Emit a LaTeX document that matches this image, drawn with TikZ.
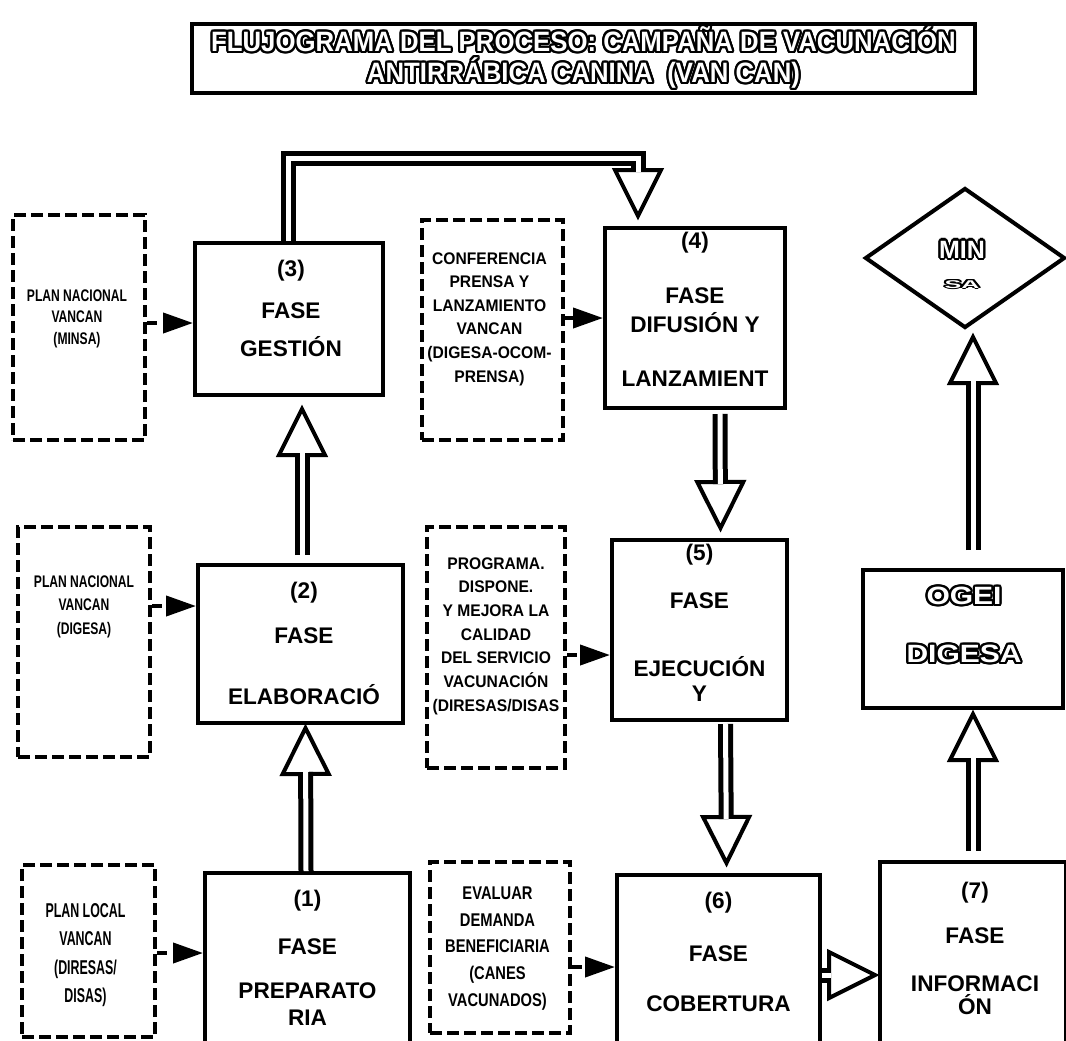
\documentclass[tikz,border=0pt]{standalone}
\usepackage{fontspec}
\setmainfont{Liberation Sans}
\newfontfamily\nA{Liberation Sans}[FakeStretch=0.72]
\newfontfamily\nB{Liberation Sans}[FakeStretch=0.93]
\newfontfamily\nC{Liberation Sans}[FakeStretch=0.62]
\newfontfamily\nD{Liberation Sans}[FakeStretch=0.8]
\newfontfamily\tF{Liberation Sans}[FakeStretch=0.92]
\newfontfamily\wF{Liberation Sans}[FakeStretch=1.2]
\usepackage[copies]{contour}
\contourlength{1.1pt}
\usetikzlibrary{shapes.geometric,arrows.meta,calc}

\tikzset{
  phase/.style={draw, line width=2pt, inner sep=0pt},
  plan/.style={draw, line width=2pt, dash pattern=on 6pt off 2.5pt, inner sep=0pt},
  ptext/.style={align=center, inner sep=0pt, font=\bfseries\fontsize{11.3}{13}\selectfont},
  outlined/.style={align=center, inner sep=0pt, text=white},
  dasharrow/.style={line width=2pt, dash pattern=on 5pt off 3pt, -{Triangle[length=15pt,width=10pt]}},
  shaft/.style={line width=2.5pt, double=white, double distance=2.5pt, line join=miter},
  headst/.style={draw, fill=white, line width=2pt, line join=miter},
}
\newcommand\hollowhead[2]{%
  \coordinate (hb) at ($(#2)!23pt!(#1)$);
  \draw[headst] (#2) -- ($(hb)!11.5pt!90:(#2)$) -- ($(hb)!11.5pt!-90:(#2)$) -- cycle;
}

\begin{document}
\begin{tikzpicture}[x=0.5pt, y=-0.5pt]
\useasboundingbox (0,0) rectangle (1066,1040);
\fill[white] (0,0) rectangle (1066,1040);
\clip (0,0) rectangle (1066,1040);

% title
\node[phase, minimum width=391.5pt, minimum height=34.5pt] (title) at (583.5,58.5) {};
\node[outlined, font=\tF\bfseries\fontsize{14}{15.5}\selectfont] (titlet) at (title.center)
  {\contour{black}{FLUJOGRAMA DEL PROCESO: CAMPAÑA DE VACUNACIÓN}\\
   \contour{black}{ANTIRRÁBICA CANINA~~(VAN CAN)}};

% dashed source boxes
\node[plan, minimum width=66pt, minimum height=112.5pt] (d1) at (79,327.5) {};
\node[plan, minimum width=66pt, minimum height=115pt] (d2) at (84,642) {};
\node[plan, minimum width=66.5pt, minimum height=86pt] (d3) at (88.5,951) {};
\node[plan, minimum width=70.5pt, minimum height=110pt] (d4) at (492.5,330) {};
\node[plan, minimum width=69pt, minimum height=120.5pt] (d5) at (496,647.5) {};
\node[plan, minimum width=70pt, minimum height=85.5pt] (d6) at (500,947.5) {};

\node[align=center, inner sep=0pt, font=\nA\bfseries\fontsize{8.4}{10.75}\selectfont] (d1t) at ($(d1)+(-2,-9)$)
  {PLAN NACIONAL\\VANCAN\\(MINSA)};
\node[align=center, inner sep=0pt, font=\nA\bfseries\fontsize{8.4}{11.75}\selectfont] (d2t) at ($(d2)+(0,-35.5)$)
  {PLAN NACIONAL\\VANCAN\\(DIGESA)};
\node[align=center, inner sep=0pt, font=\nC\bfseries\fontsize{10}{14.3}\selectfont] (d3t) at ($(d3)+(-3,4)$)
  {PLAN LOCAL\\VANCAN\\(DIRESAS/\\DISAS)};
\node[align=center, inner sep=0pt, font=\nB\bfseries\fontsize{8.4}{11.8}\selectfont] (d4t) at ($(d4)+(-3,-11)$)
  {CONFERENCIA\\PRENSA Y\\LANZAMIENTO\\VANCAN\\(DIGESA-OCOM-\\PRENSA)};
\node[align=center, inner sep=0pt, font=\nB\bfseries\fontsize{8.4}{11.85}\selectfont] (d5t) at ($(d5)+(0,-11.5)$)
  {PROGRAMA.\\DISPONE.\\Y MEJORA LA\\CALIDAD\\DEL SERVICIO\\VACUNACIÓN\\(DIRESAS/DISAS};
\node[align=center, inner sep=0pt, font=\nD\bfseries\fontsize{9.2}{13.4}\selectfont] (d6t) at ($(d6)+(-2.5,1)$)
  {EVALUAR\\DEMANDA\\BENEFICIARIA\\(CANES\\VACUNADOS)};

% phase boxes
\node[phase, minimum width=94pt, minimum height=76pt] (b3) at (289,319) {};
\node[phase, minimum width=102.5pt, minimum height=79pt] (b2) at (300.5,644) {};
\node[phase, minimum width=102.5pt, minimum height=86pt] (b1) at (307.5,959) {};
\node[phase, minimum width=90pt, minimum height=90pt] (b4) at (695,318) {};
\node[phase, minimum width=87.5pt, minimum height=90pt] (b5) at (699.5,630) {};
\node[phase, minimum width=101.5pt, minimum height=85pt] (b6) at (718.5,960) {};
\node[phase, minimum width=93pt, minimum height=91.5pt] (b7) at (973,953.5) {};
\node[phase, minimum width=100pt, minimum height=69pt] (ogei) at (963,639) {};
\node[diamond, draw, line width=2pt, inner sep=0pt, minimum width=100pt, minimum height=70pt] (min) at (965,258) {};

\node[ptext] (b3t) at ($(b3)+(2,-11)$) {(3)\\[8pt]FASE\\[6pt]GESTIÓN};
\node[ptext] (b2t) at ($(b2)+(3.5,-1)$) {(2)\\[9.5pt]FASE\\[17.5pt]ELABORACIÓ};
\node[ptext] (b1t) at ($(b1)+(0,-1.5)$) {(1)\\[11pt]FASE\\[9pt]PREPARATO\\[0.5pt]RIA};
\node[ptext] (b4t) at ($(b4)+(0,-9)$) {(4)\\[14.5pt]FASE\\[1.5pt]DIFUSIÓN Y\\[14pt]LANZAMIENT};
\node[ptext] (b5t) at ($(b5)+(0,-7.5)$) {(5)\\[11pt]FASE\\[21pt]EJECUCIÓN\\[-0.5pt]Y};
\node[ptext] (b6t) at ($(b6)+(0,-8.5)$) {(6)\\[13.5pt]FASE\\[12pt]COBERTURA};
\node[ptext] (b7t) at ($(b7)+(2,-5.5)$) {(7)\\[9.5pt]FASE\\[11pt]INFORMACI\\[-1.5pt]ÓN};

\node[outlined, font=\wF\bfseries\fontsize{12.5}{15}\selectfont] (ogeit) at ($(ogei)+(1,-13)$)
  {\contour{black}{OGEI}\\[14pt]\contour{black}{DIGESA}};
\node[outlined, font=\bfseries\fontsize{12.5}{15}\selectfont] (mint) at ($(min)+(-3,7)$)
  {\contour{black}{MIN}\\[0pt]\scalebox{1}[0.45]{\contour{black}{SA}}};

% dashed input arrows
\draw[dasharrow] ($(d1.east)+(0,-4.5)$) -- ($(b3.west)+(0,4)$);
\draw[dasharrow] ($(d2.east)+(0,-36)$) -- ($(b2.west)+(0,-38)$);
\draw[dasharrow] ($(d3.east)+(0,2)$) -- ($(b1.west)+(0,-6)$);
\draw[dasharrow] ($(d4.east)+(0,-12)$) -- ($(b4.west)+(0,0)$);
\draw[dasharrow] ($(d5.east)+(0,7.5)$) -- ($(b5.west)+(0,25)$);
\draw[dasharrow] ($(d6.east)+(0,19.5)$) -- ($(b6.west)+(0,7)$);

% hollow block arrows
% (1) -> (2)
\coordinate (s12) at ($(b1.north)+(-1.5,0)$);
\coordinate (t12) at ($(b2.south)+(5,3)$);
\hollowhead{s12}{t12}
\draw[shaft] (s12) -- ($(t12)!22pt!(s12)$);
% (2) -> (3)
\coordinate (s23) at ($(b2.north)+(1.5,-8)$);
\coordinate (t23) at ($(b3.south)+(13,12)$);
\hollowhead{s23}{t23}
\draw[shaft] (s23) -- ($(t23)!22pt!(s23)$);
% (3) -> (4)
\coordinate (s34) at ($(b3.north)+(-1,0)$);
\coordinate (c34a) at ($(b3.north)+(-1,-83)$);
\coordinate (t34) at ($(b4.north)+(-57,-10)$);
\coordinate (c34b) at (t34 |- c34a);
\hollowhead{c34b}{t34}
\draw[shaft] (s34) -- (c34a) -- (c34b) -- ($(t34)!22pt!(c34b)$);
% (4) -> (5)
\coordinate (s45) at ($(b4.south)+(25,4)$);
\coordinate (t45) at ($(b5.north)+(21,-10)$);
\hollowhead{s45}{t45}
\draw[shaft] (s45) -- ($(t45)!22pt!(s45)$);
% (5) -> (6)
\coordinate (s56) at ($(b5.south)+(26,2)$);
\coordinate (t56) at ($(b6.north)+(8,-10)$);
\hollowhead{s56}{t56}
\draw[shaft] (s56) -- ($(t56)!22pt!(s56)$);
% (6) -> (7)
\coordinate (s67) at ($(b6.east)+(0,15)$);
\coordinate (t67) at ($(b7.west)+(-3,21.5)$);
\hollowhead{s67}{t67}
\draw[shaft] (s67) -- ($(t67)!22pt!(s67)$);
% (7) -> OGEI
\coordinate (s7o) at ($(b7.north)+(0,-9)$);
\coordinate (t7o) at ($(ogei.south)+(10,4)$);
\hollowhead{s7o}{t7o}
\draw[shaft] (s7o) -- ($(t7o)!22pt!(s7o)$);
% OGEI -> MIN
\coordinate (som) at ($(ogei.north)+(10,-18)$);
\coordinate (tom) at ($(min.south)+(8,7)$);
\hollowhead{som}{tom}
\draw[shaft] (som) -- ($(tom)!22pt!(som)$);
\end{tikzpicture}
\end{document}
